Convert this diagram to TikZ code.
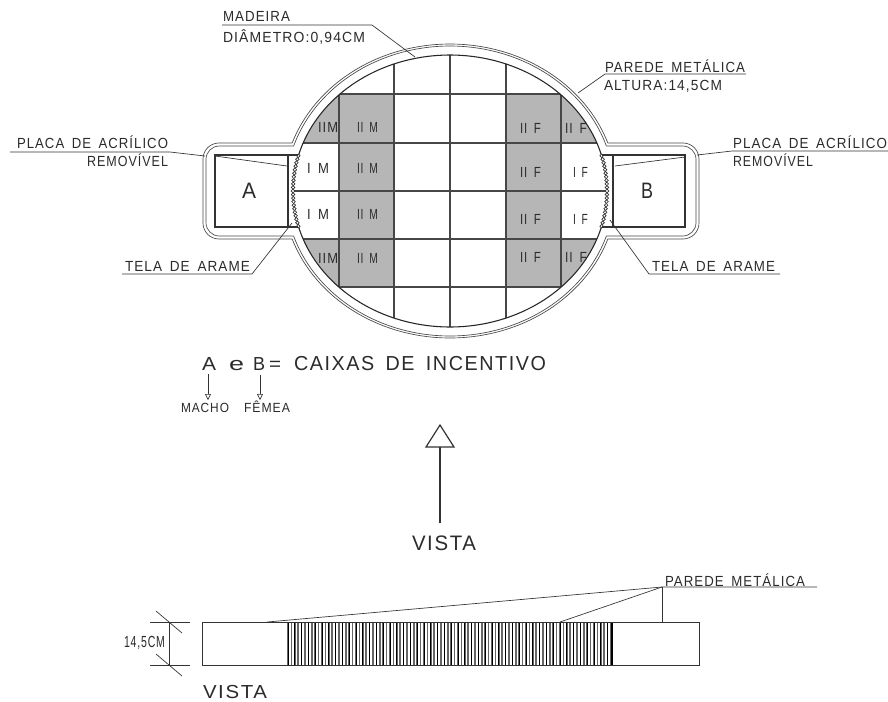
\documentclass[tikz,border=0pt]{standalone}
\usepackage{fontspec}
\usepackage{graphicx}
\usetikzlibrary{arrows.meta}
\setmainfont[LetterSpace=8,WordSpace=1.6]{Liberation Sans}
\definecolor{ink}{HTML}{333333}
\definecolor{cell}{HTML}{B6B6B6}
\newcommand{\cadt}[6]{%
  \pgfmathsetmacro\fsz{#5*1.0475}%
  \node[txt] (#1) at (#2,#3) {\resizebox{\dimexpr #4pt*3/4\relax}{\height}{\fontsize{\fsz}{\fsz}\selectfont #6}};}
\tikzset{
  txt/.style={anchor=base west,inner sep=0pt,outer sep=0pt,text=ink!85!black},
  wall/.style={draw=ink!90,line width=.5pt},
  lead/.style={draw=ink,line width=.5pt},
  gridl/.style={draw=ink!90,line width=.8pt},
  box/.style={draw=ink,line width=.9pt},
  heavy/.style={draw=black!85,line width=.8pt}
}
\begin{document}
\begin{tikzpicture}[x=.75pt,y=-.75pt]
\fill[white] (0,0) rectangle (888,701);
\useasboundingbox (0,0) rectangle (888,701);
% shaded cells and grid, clipped to the inner ellipse
\begin{scope}
  \clip plot[domain=0:360,samples=180,smooth] ({450+157*cos(\x)},{191+136*sin(\x)});
  \fill[cell] (339,94) rectangle (394,287);
  \fill[cell] (506,94) rectangle (561,287);
  \fill[cell] (280,94) rectangle (339,143);
  \fill[cell] (280,239) rectangle (339,287);
  \fill[cell] (561,94) rectangle (620,143);
  \fill[cell] (561,239) rectangle (620,287);
  \foreach \gx in {339,394,450,506,561} {\draw[gridl] (\gx,40) -- (\gx,340);}
  \foreach \gy in {94,143,191,239,287} {\draw[gridl] (280,\gy) -- (620,\gy);}
\end{scope}
% inner ellipse
\draw[heavy] plot[domain=195.35:344.65,samples=80] ({450+157*cos(\x)},{191+136*sin(\x)});
\draw[heavy] plot[domain=15.35:164.65,samples=80] ({450+157*cos(\x)},{191+136*sin(\x)});
% wire mesh
\foreach \ga in {-15,-13.5,...,15} {
  \draw[ink,line width=.5pt,fill=white] ({450-157*cos(\ga)},{191+136*sin(\ga)}) circle[radius=1.8];
  \draw[ink,line width=.5pt,fill=white] ({450+157*cos(\ga)},{191+136*sin(\ga)}) circle[radius=1.8];
}
% double wall: ellipse arcs
\draw[wall] plot[domain=199.06:340.94,samples=80] ({450+167*cos(\x)},{191+147*sin(\x)});
\draw[wall] plot[domain=19.06:160.94,samples=80] ({450+167*cos(\x)},{191+147*sin(\x)});
\draw[wall] plot[domain=198.08:341.92,samples=80] ({450+164.5*cos(\x)},{191+145*sin(\x)});
\draw[wall] plot[domain=18.08:161.92,samples=80] ({450+164.5*cos(\x)},{191+145*sin(\x)});
% double wall: side compartments
\draw[wall,rounded corners=12pt] (292.2,143) -- (203,143) -- (203,239) -- (292.2,239);
\draw[wall,rounded corners=10pt] (293.6,146) -- (206,146) -- (206,236) -- (293.6,236);
\draw[wall,rounded corners=12pt] (607.8,143) -- (699,143) -- (699,239) -- (607.8,239);
\draw[wall,rounded corners=10pt] (606.4,146) -- (696,146) -- (696,236) -- (606.4,236);
% inner boxes
\draw[box] (298,155) -- (215,155) -- (215,227) -- (298,227);
\draw[box] (288,155) -- (288,227);
\draw[box] (602,155) -- (685,155) -- (685,227) -- (602,227);
\draw[box] (613,155) -- (613,227);
% cell labels
\cadt{c1}{318}{132}{20}{10.5}{IIM}
\cadt{c2}{357}{132}{21}{10.5}{II M}
\cadt{c3}{307}{173}{22}{10.5}{I M}
\cadt{c4}{357}{173}{21}{10.5}{II M}
\cadt{c5}{307}{219}{22}{10.5}{I M}
\cadt{c6}{357}{219}{21}{10.5}{II M}
\cadt{c7}{318}{263}{20}{10.5}{IIM}
\cadt{c8}{357}{263}{21}{10.5}{II M}
\cadt{d1}{520}{133}{21}{10.5}{II F}
\cadt{d2}{565}{133}{22}{10.5}{II F}
\cadt{d3}{520}{177}{21}{10.5}{II F}
\cadt{d4}{573}{177}{15}{10.5}{I F}
\cadt{d5}{520}{224}{21}{10.5}{II F}
\cadt{d6}{573}{224}{15}{10.5}{I F}
\cadt{d7}{520}{262}{21}{10.5}{II F}
\cadt{d8}{565}{262}{22}{10.5}{II F}
\cadt{la}{242}{198}{14}{16}{A}
\cadt{lb}{641}{198}{12}{16}{B}
% callouts, top
\cadt{madeira}{223}{21}{67}{10.5}{MADEIRA}
\cadt{diam}{223}{42}{142}{10.5}{DIÂMETRO:0,94CM}
\cadt{par}{605}{72}{140}{10.5}{PAREDE METÁLICA}
\cadt{alt}{604}{90}{118}{10.5}{ALTURA:14,5CM}
\cadt{plL}{17}{148}{151}{10.5}{PLACA DE ACRÍLICO}
\cadt{remL}{87}{166}{81}{10.5}{REMOVÍVEL}
\cadt{plR}{733}{148}{154}{10.5}{PLACA DE ACRÍLICO}
\cadt{remR}{733}{166}{80}{10.5}{REMOVÍVEL}
\cadt{telL}{125}{271}{125}{10.5}{TELA DE ARAME}
\cadt{telR}{652}{271}{123}{10.5}{TELA DE ARAME}
\coordinate (m0) at (222,25); \coordinate (m1) at (372,25); \coordinate (m2) at (415,57);
\draw[lead] (m0) -- (m1) -- (m2);
\coordinate (p0) at (746,74); \coordinate (p1) at (605,74); \coordinate (p2) at (578,93);
\draw[lead] (p0) -- (p1) -- (p2);
\coordinate (a0) at (10,152); \coordinate (a1) at (170,152); \coordinate (a2) at (205,156);
\coordinate (a3) at (215,156); \coordinate (a4) at (287,166);
\draw[lead] (a0) -- (a1) -- (a2); \draw[lead] (a3) -- (a4);
\coordinate (b0) at (888,151); \coordinate (b1) at (732,151); \coordinate (b2) at (697,155);
\coordinate (b3) at (685,157); \coordinate (b4) at (615,166);
\draw[lead] (b0) -- (b1) -- (b2); \draw[lead] (b3) -- (b4);
\coordinate (t0) at (122,274); \coordinate (t1) at (252,274); \coordinate (t2) at (292,223);
\draw[lead] (t0) -- (t1) -- (t2);
\coordinate (u0) at (780,274); \coordinate (u1) at (649,274); \coordinate (u2) at (610,220);
\draw[lead] (u0) -- (u1) -- (u2);
% legend
\cadt{kA}{202}{370}{14}{13.5}{A}
\cadt{ke}{229}{370}{15}{13.5}{e}
\cadt{kB}{253}{370}{12}{13.5}{B}
\cadt{keq}{269}{370}{12}{13.5}{=}
\cadt{kc}{294}{370}{252}{14.5}{CAIXAS DE INCENTIVO}
\cadt{macho}{181}{412}{48}{9.5}{MACHO}
\cadt{femea}{244}{412}{46}{9.5}{FÊMEA}
\coordinate (ka1) at (208,374); \coordinate (ka2) at (208,400);
\coordinate (kb1) at (260,375); \coordinate (kb2) at (260,400);
\draw[lead,-{Triangle[open,length=4.5pt,width=4.5pt]}] (ka1) -- (ka2);
\draw[lead,-{Triangle[open,length=4.5pt,width=4.5pt]}] (kb1) -- (kb2);
% view arrow
\cadt{vista}{412}{550}{64}{15}{VISTA}
\coordinate (v0) at (440,523); \coordinate (v1) at (440,447);
\coordinate (v2) at (426,447); \coordinate (v3) at (440,425); \coordinate (v4) at (454,447);
\draw[box] (v0) -- (v1);
\draw[box] (v2) -- (v3) -- (v4) -- cycle;
% side view
\foreach \hx in {288,291.4,...,611} {\draw[black!60,line width=1.2pt] (\hx,622) -- (\hx,665);}
\foreach \hx in {288,294.8,...,611} {\draw[black,line width=.5pt] (\hx,622) -- (\hx,665);}
\draw[black,line width=1.1pt] (612,622) -- (612,665);
\draw[box,line width=.7pt] (202,622) rectangle (699,665);
% dimension
\draw[lead] (150,622) -- (190,622);
\draw[lead] (150,665) -- (190,665);
\draw[lead] (169,622) -- (169,665);
\draw[lead] (156,611) -- (182,633);
\draw[lead] (156,654) -- (182,676);
\cadt{dim}{124}{647}{41}{11.5}{14,5CM}
\cadt{vista2}{203}{698}{64}{13.5}{VISTA}
\cadt{par2}{665}{586}{140}{10.5}{PAREDE METÁLICA}
\coordinate (q0) at (817,587); \coordinate (q1) at (662,587);
\coordinate (q2) at (267,622); \coordinate (q3) at (560,622); \coordinate (q4) at (662,622);
\draw[lead] (q0) -- (q1) -- (q2);
\draw[lead] (q1) -- (q3);
\draw[lead] (q1) -- (q4);
\end{tikzpicture}
\end{document}
